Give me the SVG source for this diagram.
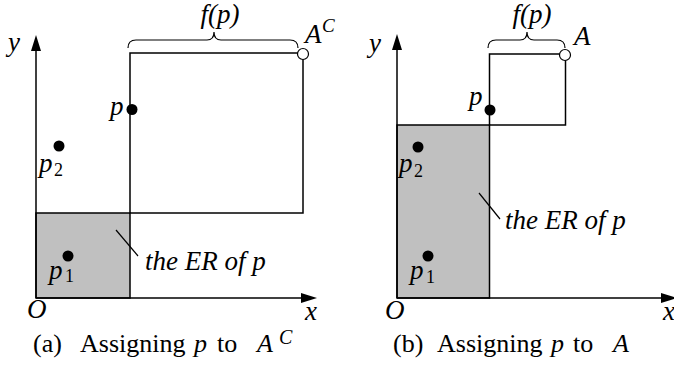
<svg xmlns="http://www.w3.org/2000/svg" width="674" height="378" viewBox="0 0 674 378">
<defs>
<style>
.ln{fill:none;stroke:#000;stroke-width:1.5}
.er{fill:#c0c0c0;stroke:#000;stroke-width:1.5}
.br{fill:none;stroke:#000;stroke-width:1.2}
.dot{fill:#000}
.open{fill:#fff;stroke:#000;stroke-width:1.2}
.m{font-style:italic;font-size:27px;fill:#000}
.sub{font-size:18px;fill:#000}
.cap{font-size:26px;fill:#000}
.lead{stroke:#000;stroke-width:1.2}
</style>
<marker id="ah" viewBox="0 0 16 10" refX="1" refY="5" markerWidth="16" markerHeight="10" markerUnits="userSpaceOnUse" orient="auto">
<path d="M0,0 L16,5 L0,10 Z" fill="#000"/>
</marker>
</defs>
<rect width="674" height="378" fill="#fff"/>
<g font-family="Liberation Serif, DejaVu Serif, serif">
<!-- Panel (a) -->
<g id="a-er"><rect class="er" x="36" y="213" width="94" height="85"/></g>
<g id="a-box"><rect class="ln" x="130" y="53" width="173" height="160"/></g>
<g id="a-axes">
<line class="ln" x1="36" y1="298" x2="36" y2="50" marker-end="url(#ah)"/>
<line class="ln" x1="36" y1="298" x2="302" y2="298" marker-end="url(#ah)"/>
<text class="m" x="8" y="51">y</text>
<text class="m" x="27" y="318">O</text>
<text class="m" x="305" y="320">x</text>
</g>
<g id="a-p"><circle class="dot" cx="132" cy="109.5" r="5.5"/><text class="m" x="110" y="115">p</text></g>
<g id="a-p2"><circle class="dot" cx="59" cy="146" r="5.5"/><text class="m" x="39" y="172">p</text><text class="sub" x="54" y="176">2</text></g>
<g id="a-p1"><circle class="dot" cx="68" cy="256" r="5.5"/><text class="m" x="49" y="279">p</text><text class="sub" x="65" y="282">1</text></g>
<g id="a-AC"><circle class="open" cx="303" cy="54" r="5.5"/><text class="m" x="305" y="43">A</text><text class="m" x="322" y="32" style="font-size:19px">C</text></g>
<g id="a-fp"><text class="m" x="220" y="23" text-anchor="middle">f(p)</text></g>
<g id="a-erlabel"><text class="m" x="145" y="270">the ER of p</text></g>
<text class="cap" y="352"><tspan x="33">(a)</tspan><tspan x="80">Assigning</tspan><tspan x="194" font-style="italic">p</tspan><tspan x="217">to</tspan><tspan x="257" font-style="italic">A</tspan><tspan x="279" y="344" font-style="italic" font-size="20">C</tspan></text>

<!-- Panel (b) -->
<g id="b-er"><rect class="er" x="397" y="125" width="92.5" height="173"/></g>
<g id="b-box"><rect class="ln" x="489.5" y="54" width="76" height="71"/></g>
<g id="b-axes">
<line class="ln" x1="397" y1="298" x2="397" y2="49" marker-end="url(#ah)"/>
<line class="ln" x1="397" y1="298" x2="662" y2="298" marker-end="url(#ah)"/>
<text class="m" x="369" y="52">y</text>
<text class="m" x="385" y="319">O</text>
<text class="m" x="663" y="320">x</text>
</g>
<g id="b-p"><circle class="dot" cx="490" cy="110" r="5.5"/><text class="m" x="469" y="105">p</text></g>
<g id="b-p2"><circle class="dot" cx="418" cy="147" r="5.5"/><text class="m" x="399" y="172">p</text><text class="sub" x="414" y="177">2</text></g>
<g id="b-p1"><circle class="dot" cx="428" cy="256" r="5.5"/><text class="m" x="410" y="279">p</text><text class="sub" x="426" y="283">1</text></g>
<g id="b-A"><circle class="open" cx="565" cy="55" r="5.5"/><text class="m" x="574" y="45">A</text></g>
<g id="b-fp"><text class="m" x="532" y="23" text-anchor="middle">f(p)</text></g>
<g id="b-erlabel"><text class="m" x="505" y="229">the ER of p</text></g>
<text class="cap" y="352"><tspan x="393">(b)</tspan><tspan x="437">Assigning</tspan><tspan x="551" font-style="italic">p</tspan><tspan x="573">to</tspan><tspan x="613" font-style="italic">A</tspan></text>
</g>
<!-- connectors: braces and leader lines -->
<g id="connectors">
<path class="br" d="M128,48 Q128,40 136,40 L207,40 Q214,40 214,32 Q214,40 221,40 L290,40 Q298,40 298,48"/>
<path class="br" d="M488,48 Q488,40 496,40 L520,40 Q527,40 527,32 Q527,40 534,40 L557,40 Q565,40 565,48"/>
<line class="lead" x1="116" y1="230" x2="138" y2="256"/>
<line class="lead" x1="479" y1="193" x2="500" y2="219"/>
</g>
</svg>
